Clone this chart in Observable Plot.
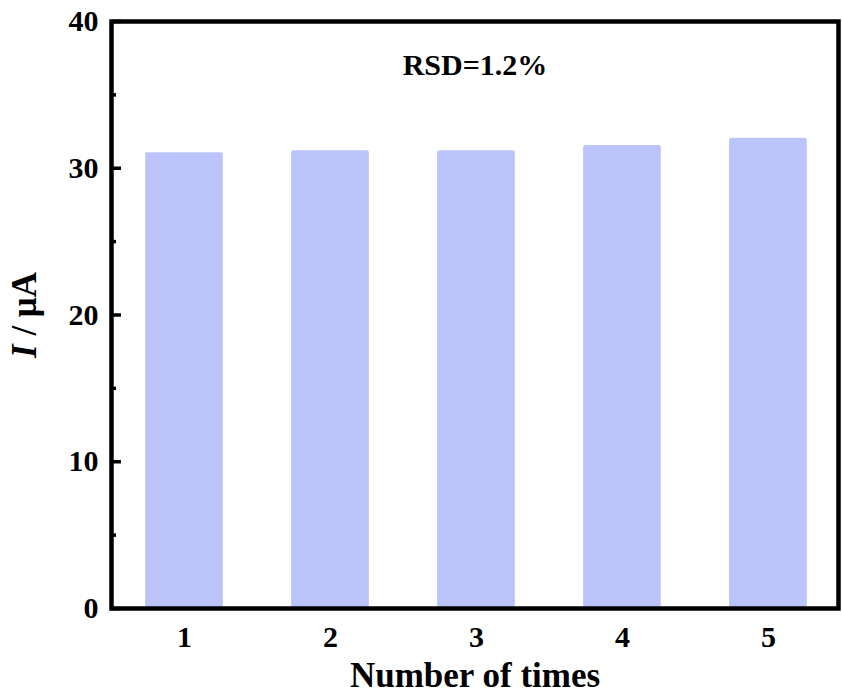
<!DOCTYPE html>
<html>
<head>
<meta charset="utf-8">
<script src="https://cdn.jsdelivr.net/npm/d3@7"></script>
<script src="https://cdn.jsdelivr.net/npm/@observablehq/plot@0.6"></script>
<style>
  html, body { margin: 0; padding: 0; background: #fff; }
  svg { display: block; }
</style>
</head>
<body>
<div id="chart"></div>
<script>
const runs = [1, 2, 3, 4, 5];
const currents = [31.05, 31.2, 31.2, 31.55, 32.05];
const yMajorTicks = [0, 10, 20, 30, 40];
const yMinorTicks = [5, 15, 25, 35];
const xTicks = [1, 2, 3, 4, 5];
const barHalfWidth = 0.266;
const annotation = "RSD=1.2%";
const xLabel = "Number of times";

const data = runs.map((n, i) => ({n, v: currents[i]}));
const font = "'Liberation Serif', 'Times New Roman', serif";
const barColor = "#bbc3fb";

const chart = Plot.plot({
  width: 842,
  height: 697,
  marginLeft: 111,
  marginRight: 4,
  marginTop: 21,
  marginBottom: 89,
  style: {fontFamily: font, fontWeight: "bold", color: "#000", background: "#fff"},
  x: {domain: [0.5, 5.48]},
  y: {domain: [0, 40]},
  marks: [
    Plot.rectY(data, {x1: d => d.n - barHalfWidth, x2: d => d.n + barHalfWidth, y1: 0, y2: "v", fill: barColor, rx: 2}),
    Plot.axisY({ticks: yMajorTicks, tickSize: 0, tickPadding: 13, fontSize: 30, label: null}),
    Plot.axisY({ticks: yMajorTicks, tickSize: -10, text: null, strokeWidth: 3.5, label: null}),
    Plot.axisY({ticks: yMinorTicks, tickSize: -5, text: null, strokeWidth: 3.5, label: null}),
    Plot.axisX({ticks: xTicks, tickSize: 0, tickPadding: 17, fontSize: 30, label: null, tickFormat: d3.format("d")}),
    Plot.frame({stroke: "#000", strokeWidth: 4.5}),
    Plot.text([annotation], {frameAnchor: "top", dy: 44, fontSize: 30, fontWeight: "bold", textAnchor: "middle", lineAnchor: "middle", text: d => d}),
    Plot.text([xLabel], {frameAnchor: "bottom", dy: 67, fontSize: 35, fontWeight: "bold", textAnchor: "middle", lineAnchor: "middle", text: d => d}),
    Plot.text(["I / μA"], {frameAnchor: "left", dx: -87, rotate: -90, fontSize: 35, fontWeight: "bold", textAnchor: "middle", lineAnchor: "middle", text: d => d, className: "ylab"})
  ]
});

// italicize the "I" of the y label
d3.select(chart).selectAll(".ylab text").each(function() {
  const t = d3.select(this);
  t.text(null);
  t.append("tspan").attr("font-style", "italic").text("I");
  t.append("tspan").text(" / μA");
});

document.getElementById("chart").appendChild(chart);
</script>
</body>
</html>
